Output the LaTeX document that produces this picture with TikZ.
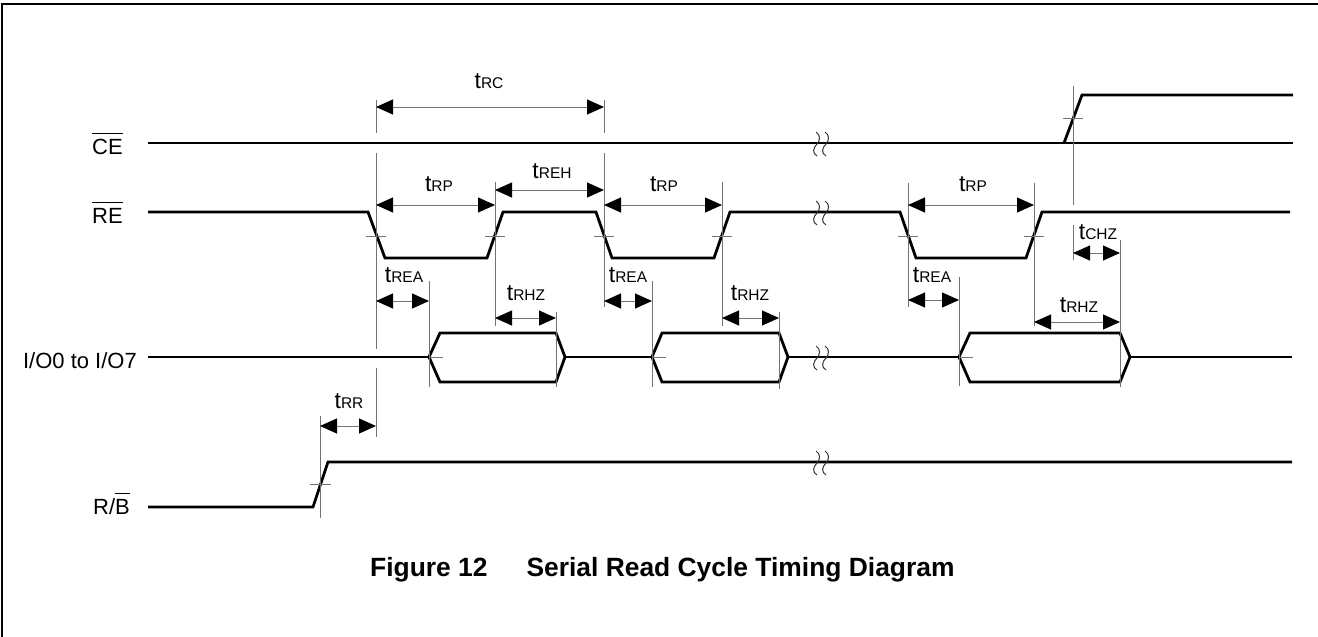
\documentclass[tikz,border=0pt]{standalone}
\usepackage{fontspec}
\setmainfont{Liberation Sans}
\usetikzlibrary{arrows.meta}
\newcommand\tlab[1]{{\fontsize{23}{23}\selectfont t}{\fontsize{15.5}{15.5}\selectfont #1}}
\newcommand\ovl[1]{\leavevmode\vbox{\hrule height 0.9pt\kern 4.5pt\hbox{#1}}}
\begin{document}
\begin{tikzpicture}[x=1pt,y=-1pt,
  sig/.style={line width=2.8pt, black, line join=miter},
  thinl/.style={line width=1pt, black!55},
  tickl/.style={line width=0.9pt, black!55},
  dim/.style={line width=1pt, black!55,
    {Triangle[length=17pt,width=15pt,color=black]}-{Triangle[length=17pt,width=15pt,color=black]}},
  tl/.style={anchor=base, inner sep=0pt},
  sname/.style={anchor=base east, inner sep=0pt, font=\fontsize{22}{22}\selectfont},
  brkmark/.pic={
    \draw[line width=1pt, black!80] (-1,-11) .. controls (4,-8) and (3,-2) .. (0,1) .. controls (-4,5) and (-5,10) .. (0,13);
    \draw[line width=1pt, black!80] (8,-11) .. controls (13,-8) and (12,-2) .. (9,1) .. controls (5,5) and (4,10) .. (9,13);
  }]
\useasboundingbox (0,0) rectangle (1318,637);
% frame
\draw[line width=1.2pt] (2,637) -- (2,4) -- (1318,4);

% signal names
\node[sname] (nce) at (123,154) {\ovl{CE}};
\node[sname] (nre) at (123,223) {\ovl{RE}};
\node[sname] (nio) at (137,368) {I/O0 to I/O7};
\node[sname] (nrb) at (130,514) {R/\ovl{B}};

% CE
\draw[sig] (148,143) -- (1293,143);
\draw[sig] (1064,143) -- (1082,95) -- (1293,95);
\draw[tickl] (1063,118) -- (1083,118);
\draw[thinl] (1073,86) -- (1073,205);
\pic at (817,143) {brkmark};

% RE
\draw[sig] (148,212) -- (368,212) -- (385,258) -- (487,258) -- (503,212) -- (596,212) -- (612,258) -- (714,258) -- (730,212)
  -- (900,212) -- (916,258) -- (1026,258) -- (1042,212) -- (1290,212);
\foreach \x in {376,495,604,722,908,1034} \draw[tickl] (\x-10,236) -- (\x+10,236);
\pic at (817,212) {brkmark};

% I/O
\draw[sig] (148,357) -- (429,357);
\draw[sig] (429,357) -- (440,333) -- (556,333) -- (565,357) -- (556,382) -- (440,382) -- cycle;
\draw[sig] (565,357) -- (652,357);
\draw[sig] (652,357) -- (662,333) -- (779,333) -- (788,357) -- (779,382) -- (662,382) -- cycle;
\draw[sig] (788,357) -- (959,357);
\draw[sig] (959,357) -- (970,333) -- (1120,333) -- (1130,357) -- (1120,382) -- (970,382) -- cycle;
\draw[sig] (1130,357) -- (1292,357);
\foreach \x in {429,652,959} \draw[tickl] (\x,357) -- (\x+14,357);
\pic at (817,357) {brkmark};

% R/B
\draw[sig] (148,507) -- (313,507) -- (328,462) -- (1292,462);
\draw[tickl] (310,484) -- (331,484);
\draw[thinl] (320,416) -- (320,518);
\pic at (817,462) {brkmark};

% vertical reference lines
\draw[thinl] (376,100) -- (376,133);
\draw[thinl] (376,153) -- (376,349);
\draw[thinl] (376,368) -- (376,437);
\draw[thinl] (604,100) -- (604,133);
\draw[thinl] (604,153) -- (604,307);
\draw[thinl] (495,182) -- (495,326);
\draw[thinl] (722,182) -- (722,326);
\draw[thinl] (908,183) -- (908,307);
\draw[thinl] (1034,183) -- (1034,326);
\draw[thinl] (429,281) -- (429,387);
\draw[thinl] (652,281) -- (652,387);
\draw[thinl] (959,277) -- (959,386);
\draw[thinl] (556,312) -- (556,387);
\draw[thinl] (779,312) -- (779,389);
\draw[thinl] (1120,240) -- (1120,387);
\draw[thinl] (1073,225) -- (1073,260);

% dimension arrows
\coordinate (rc1) at (376,107); \coordinate (rc2) at (604,107);
\draw[dim] (rc1) -- (rc2);
\node[tl] (lrc) at (489,88) {\tlab{RC}};
\coordinate (rp1a) at (376,205); \coordinate (rp1b) at (495,205);
\draw[dim] (rp1a) -- (rp1b);
\node[tl] (lrp1) at (439,191) {\tlab{RP}};
\coordinate (reha) at (495,190); \coordinate (rehb) at (604,190);
\draw[dim] (reha) -- (rehb);
\node[tl] (lreh) at (552,178) {\tlab{REH}};
\coordinate (rp2a) at (604,205); \coordinate (rp2b) at (722,205);
\draw[dim] (rp2a) -- (rp2b);
\node[tl] (lrp2) at (664,191) {\tlab{RP}};
\coordinate (rp3a) at (908,205); \coordinate (rp3b) at (1034,205);
\draw[dim] (rp3a) -- (rp3b);
\node[tl] (lrp3) at (973,191) {\tlab{RP}};
\coordinate (rea1a) at (376,301); \coordinate (rea1b) at (429,301);
\draw[dim] (rea1a) -- (rea1b);
\node[tl] (lrea1) at (404,282) {\tlab{REA}};
\coordinate (rea2a) at (604,301); \coordinate (rea2b) at (652,301);
\draw[dim] (rea2a) -- (rea2b);
\node[tl] (lrea2) at (628,282) {\tlab{REA}};
\coordinate (rea3a) at (908,300); \coordinate (rea3b) at (959,300);
\draw[dim] (rea3a) -- (rea3b);
\node[tl] (lrea3) at (932,282) {\tlab{REA}};
\coordinate (rhz1a) at (495,318); \coordinate (rhz1b) at (556,318);
\draw[dim] (rhz1a) -- (rhz1b);
\node[tl] (lrhz1) at (526,300) {\tlab{RHZ}};
\coordinate (rhz2a) at (722,318); \coordinate (rhz2b) at (779,318);
\draw[dim] (rhz2a) -- (rhz2b);
\node[tl] (lrhz2) at (750,300) {\tlab{RHZ}};
\coordinate (rhz3a) at (1034,322); \coordinate (rhz3b) at (1120,322);
\draw[dim] (rhz3a) -- (rhz3b);
\node[tl] (lrhz3) at (1079,312) {\tlab{RHZ}};
\coordinate (chza) at (1073,253); \coordinate (chzb) at (1120,253);
\draw[dim] (chza) -- (chzb);
\node[tl] (lchz) at (1098,239) {\tlab{CHZ}};
\coordinate (rra) at (320,426); \coordinate (rrb) at (376,426);
\draw[dim] (rra) -- (rrb);
\node[tl] (lrr) at (349,408) {\tlab{RR}};

% caption
\node[anchor=base west, inner sep=0pt, font=\bfseries\fontsize{26.4}{26.4}\selectfont] (cap) at (370,576)
  {Figure 12\hspace{39pt}Serial Read Cycle Timing Diagram};
\end{tikzpicture}
\end{document}
